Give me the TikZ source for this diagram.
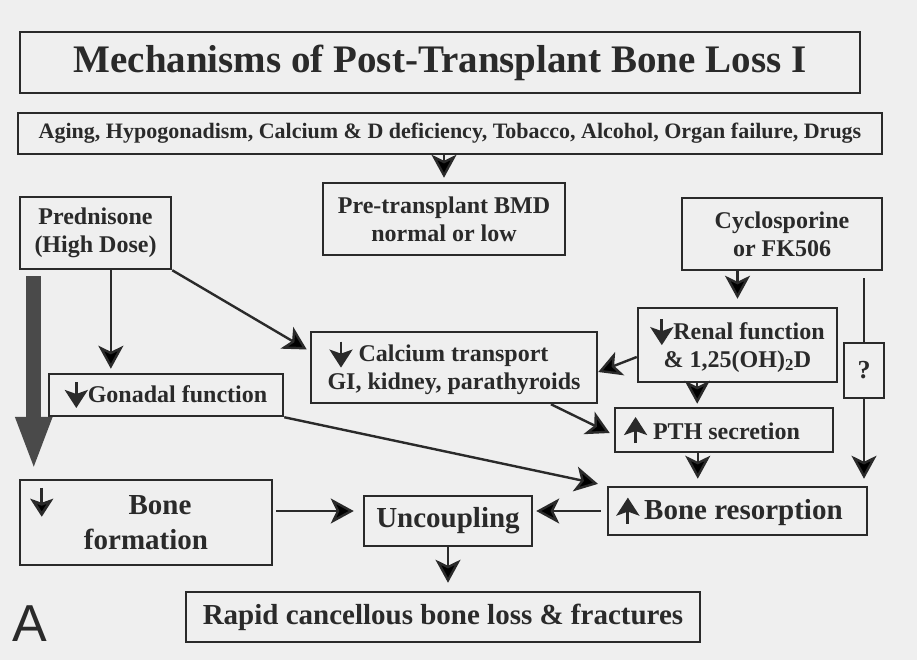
\documentclass[tikz,border=0pt]{standalone}
\usepackage{fontspec}
\setmainfont{Liberation Serif}
\setsansfont{Liberation Sans}
\usetikzlibrary{arrows.meta,calc}
\definecolor{ink}{HTML}{2A2A2A}
\definecolor{bg}{HTML}{EFEFEF}
\tikzset{
  box/.style={draw=ink, line width=2.5pt, inner sep=0pt, text=ink, align=center},
  arr/.style={draw=ink, line width=2.4pt, -{Stealth[length=23pt,width=25pt,inset=6pt]}},
  plainline/.style={draw=ink, line width=2.4pt},
  glyph/.style={draw=ink, line width=2.8pt, -{Stealth[length=18pt,width=23pt,inset=4pt]}},
  fmid/.style={font=\bfseries\fontsize{24}{28}\selectfont},
  fbig/.style={font=\bfseries\fontsize{29}{35}\selectfont},
}
\newcommand\gdn{\tikz[baseline=0pt,x=1pt,y=1pt]{\draw[glyph](0,20)--(0,-6);}}
\newcommand\gup{\tikz[baseline=0pt,x=1pt,y=1pt]{\draw[glyph](0,-4)--(0,22);}}
\begin{document}
\begin{tikzpicture}[x=1pt,y=-1pt]
\path[use as bounding box, fill=bg] (0,0) rectangle (917,660);

% boxes
\node[box, line width=2.8pt, minimum width=840pt, minimum height=61pt,
      font=\bfseries\fontsize{39}{44}\selectfont] (title) at (440,62.5)
  {Mechanisms of Post-Transplant Bone Loss I};
\node[box, minimum width=864pt, minimum height=41pt,
      font=\bfseries\fontsize{22}{26}\selectfont] (factors) at (450,133.5)
  {Aging, Hypogonadism, Calcium \& D deficiency, Tobacco, Alcohol, Organ failure, Drugs};
\node[box, fmid, minimum width=242pt, minimum height=72pt] (bmd) at (444,219)
  {Pre-transplant BMD\\normal or low};
\node[box, fmid, minimum width=151pt, minimum height=72pt] (pred) at (95.5,233)
  {Prednisone\\(High Dose)};
\node[box, fmid, minimum width=200pt, minimum height=72pt] (cyclo) at (782,234)
  {Cyclosporine\\or FK506};
\node[box, fmid, minimum width=199pt, minimum height=74pt] (renal) at (737.5,345)
  {\gdn Renal function\\\& 1,25(OH)\textsubscript{2}D};
\node[box, fmid, minimum width=286pt, minimum height=71pt] (calc) at (454,367.5)
  {\gdn\ Calcium transport\hspace*{30pt}\\GI, kidney, parathyroids};
\node[box, fmid, font=\bfseries\fontsize{26}{28}\selectfont, minimum width=40pt, minimum height=55pt] (q) at (864,370.5) {?};
\node[box, fmid, minimum width=234pt, minimum height=42pt] (gonad) at (166,395)
  {\gdn Gonadal function};
\node[box, fmid, minimum width=218pt, minimum height=44pt] (pth) at (724,430)
  {\gup\ PTH secretion\hspace*{24pt}};
\node[box, fbig, minimum width=259pt, minimum height=48pt] (boneres) at (737.5,511)
  {\gup\,Bone resorption\hspace*{16pt}};
\node[box, fbig, minimum width=252pt, minimum height=85pt] (bonef) at (146,522.5)
  {\hspace*{28pt}Bone\\formation};
\node[box, fbig, minimum width=168pt, minimum height=50pt] (uncoup) at (448,521)
  {Uncoupling};
\node[box, fbig, minimum width=514pt, minimum height=50pt] (rapid) at (443,617)
  {Rapid cancellous bone loss \& fractures};
\node[font=\sffamily\fontsize{52}{52}\selectfont, text=ink, inner sep=0pt, anchor=south west]
  (lblA) at (12,642) {A};

% glyph in bone formation box
\draw[glyph] ($(bonef.north west)+(23,9)$) -- ($(bonef.north west)+(23,38)$);

% thick arrow
\draw[line width=15pt, draw=ink!85, -{Triangle[length=54pt,width=33pt]}]
  ($(pred.south west)+(15,6)$) -- ($(bonef.north west)+(15,-8)$);

% connectors
\draw[arr, shorten >=4pt] (factors.south -| bmd.north) -- (bmd.north);
\coordinate (pg) at ($(pred.south west)!0.6!(pred.south east)$);
\draw[arr, shorten >=4pt] (pg) -- (pg |- gonad.north);
\draw[arr] (pred.south east) -- ($(calc.west)+(-3,-18)$);
\draw[arr, shorten >=8pt] (cyclo.south -| renal.north) -- (renal.north);
\draw[plainline, shorten <=7pt] (q.north |- cyclo.south) -- (q.north);
\draw[arr, shorten >=7pt] (q.south) -- (q.south |- boneres.north);
\draw[arr] ($(renal.west)+(0,12)$) -- ($(calc.east)+(0,4.5)$);
\coordinate (rp) at ($(renal.south west)!0.3!(renal.south east)$);
\draw[arr, shorten >=3pt] (rp) -- (rp |- pth.north);
\draw[arr] ($(calc.south west)!0.836!(calc.south east)$) -- ($(pth.west)+(-4,3)$);
\draw[arr, shorten >=9pt] (gonad.south east) -- (boneres.north west);
\coordinate (pb) at ($(pth.south west)!0.381!(pth.south east)$);
\draw[arr, shorten >=7pt] (pb) -- (pb |- boneres.north);
\coordinate (ul) at ($(uncoup.west)+(0,-10)$);
\coordinate (ur) at ($(uncoup.east)+(0,-10)$);
\draw[arr, shorten <=3pt, shorten >=9pt] (bonef.east |- ul) -- (ul);
\draw[arr, shorten <=6pt, shorten >=3pt] (boneres.west |- ur) -- (ur);
\draw[arr, shorten >=8pt] (uncoup.south) -- (uncoup.south |- rapid.north);
\end{tikzpicture}
\end{document}
